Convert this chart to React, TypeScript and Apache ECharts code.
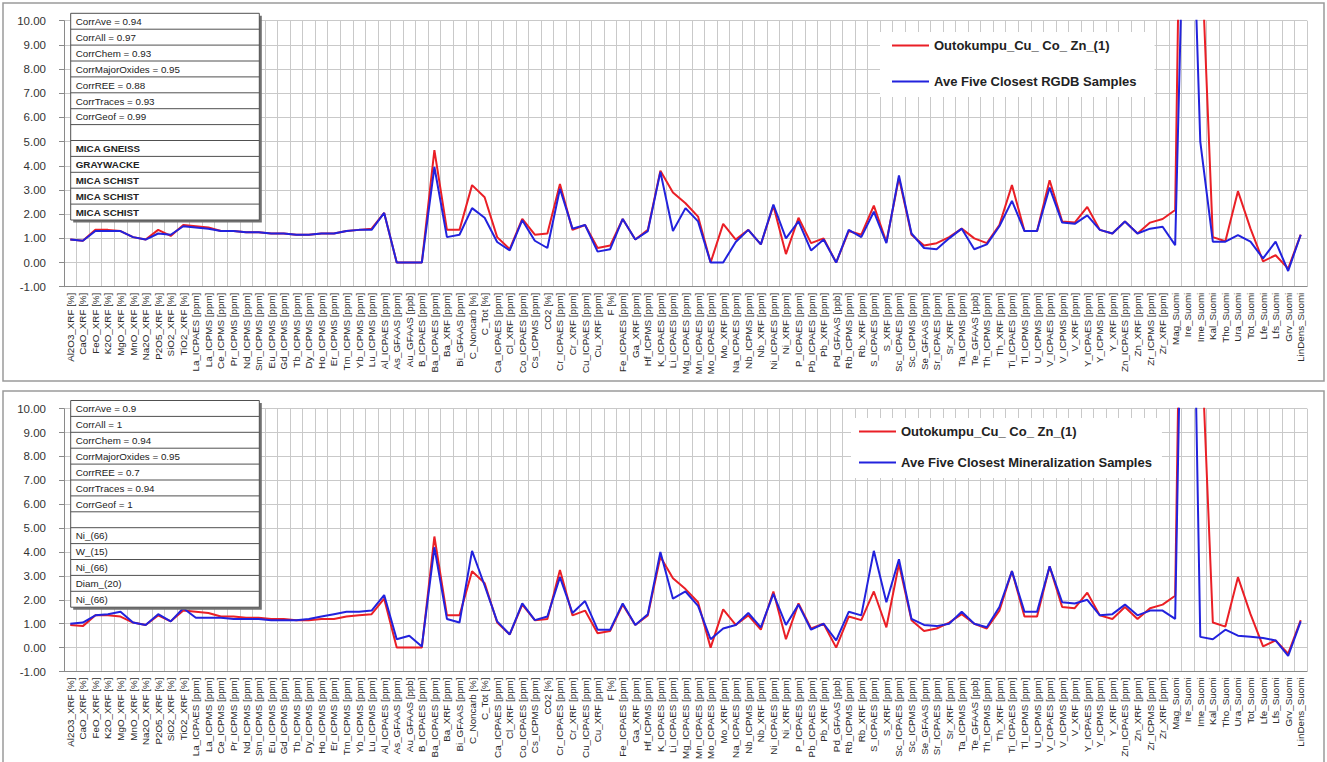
import React, { useEffect, useRef } from "react";
import * as echarts from "echarts";

const categories = [
  "Al2O3_XRF [%]", "CaO_XRF [%]", "FeO_XRF [%]", "K2O_XRF [%]", "MgO_XRF [%]", "MnO_XRF [%]", "Na2O_XRF [%]", "P2O5_XRF [%]", "SiO2_XRF [%]", "TiO2_XRF [%]",
  "La_ICPAES [ppm]", "La_ICPMS [ppm]", "Ce_ICPMS [ppm]", "Pr_ICPMS [ppm]", "Nd_ICPMS [ppm]", "Sm_ICPMS [ppm]", "Eu_ICPMS [ppm]", "Gd_ICPMS [ppm]", "Tb_ICPMS [ppm]", "Dy_ICPMS [ppm]",
  "Ho_ICPMS [ppm]", "Er_ICPMS [ppm]", "Tm_ICPMS [ppm]", "Yb_ICPMS [ppm]", "Lu_ICPMS [ppm]", "Al_ICPAES [ppm]", "As_GFAAS [ppm]", "Au_GFAAS [ppb]", "B_ICPAES [ppm]", "Ba_ICPAES [ppm]",
  "Ba_XRF [ppm]", "Bi_GFAAS [ppm]", "C_Noncarb [%]", "C_Tot [%]", "Ca_ICPAES [ppm]", "Cl_XRF [ppm]", "Co_ICPAES [ppm]", "Cs_ICPMS [ppm]", "CO2 [%]", "Cr_ICPAES [ppm]",
  "Cr_XRF [ppm]", "Cu_ICPAES [ppm]", "Cu_XRF [ppm]", "F [%]", "Fe_ICPAES [ppm]", "Ga_XRF [ppm]", "Hf_ICPMS [ppm]", "K_ICPAES [ppm]", "Li_ICPAES [ppm]", "Mg_ICPAES [ppm]",
  "Mn_ICPAES [ppm]", "Mo_ICPAES [ppm]", "Mo_XRF [ppm]", "Na_ICPAES [ppm]", "Nb_ICPMS [ppm]", "Nb_XRF [ppm]", "Ni_ICPAES [ppm]", "Ni_XRF [ppm]", "P_ICPAES [ppm]", "Pb_ICPAES [ppm]",
  "Pb_XRF [ppm]", "Pd_GFAAS [ppb]", "Rb_ICPMS [ppm]", "Rb_XRF [ppm]", "S_ICPAES [ppm]", "S_XRF [ppm]", "Sc_ICPAES [ppm]", "Sc_ICPMS [ppm]", "Se_GFAAS [ppm]", "Sr_ICPAES [ppm]",
  "Sr_XRF [ppm]", "Ta_ICPMS [ppm]", "Te_GFAAS [ppb]", "Th_ICPMS [ppm]", "Th_XRF [ppm]", "Ti_ICPAES [ppm]", "Tl_ICPMS [ppm]", "U_ICPMS [ppm]", "V_ICPAES [ppm]", "V_ICPMS [ppm]",
  "V_XRF [ppm]", "Y_ICPAES [ppm]", "Y_ICPMS [ppm]", "Y_XRF [ppm]", "Zn_ICPAES [ppm]", "Zn_XRF [ppm]", "Zr_ICPMS [ppm]", "Zr_XRF [ppm]", "Mag_Suomi", "Ire_Suomi",
  "Ime_Suomi", "Kal_Suomi", "Tho_Suomi", "Ura_Suomi", "Tot_Suomi", "Lfe_Suomi", "Lfs_Suomi", "Grv_Suomi", "LinDens_Suomi",
];

// Outokumpu_Cu_ Co_ Zn_(1) (same sample in both panels)
const sampleValues = [
  0.95, 0.9, 1.35, 1.35, 1.3, 1.05, 0.95, 1.35, 1.1, 1.55,
  1.5, 1.45, 1.3, 1.3, 1.25, 1.25, 1.2, 1.2, 1.15, 1.15,
  1.2, 1.2, 1.3, 1.35, 1.4, 2.05, 0.0, 0.0, 0.0, 4.65,
  1.35, 1.35, 3.2, 2.7, 1.05, 0.55, 1.8, 1.15, 1.2, 3.25,
  1.35, 1.55, 0.6, 0.7, 1.8, 0.95, 1.35, 3.8, 2.9, 2.45,
  1.9, 0.0, 1.6, 0.95, 1.35, 0.75, 2.35, 0.35, 1.85, 0.8,
  1.0, 0.0, 1.3, 1.15, 2.35, 0.85, 3.5, 1.15, 0.7, 0.8,
  1.05, 1.4, 1.0, 0.8, 1.55, 3.2, 1.3, 1.3, 3.4, 1.7,
  1.65, 2.3, 1.35, 1.2, 1.7, 1.2, 1.65, 1.8, 2.17, 37.0,
  14.0, 1.05, 0.88, 2.95, 1.4, 0.05, 0.3, -0.25, 1.15,
];

// Ave Five Closest RGDB Samples
const rgdbValues = [
  0.95, 0.9, 1.3, 1.3, 1.3, 1.05, 0.95, 1.2, 1.15, 1.5,
  1.45, 1.4, 1.3, 1.3, 1.25, 1.25, 1.2, 1.2, 1.15, 1.15,
  1.2, 1.2, 1.3, 1.35, 1.35, 2.05, 0.0, 0.0, 0.0, 3.95,
  1.05, 1.15, 2.25, 1.85, 0.85, 0.5, 1.75, 0.9, 0.6, 3.05,
  1.4, 1.55, 0.45, 0.55, 1.8, 0.95, 1.3, 3.75, 1.3, 2.25,
  1.7, 0.0, 0.0, 0.85, 1.35, 0.75, 2.4, 1.0, 1.7, 0.5,
  0.95, 0.0, 1.35, 1.05, 2.1, 0.8, 3.6, 1.2, 0.6, 0.55,
  1.0, 1.4, 0.55, 0.75, 1.5, 2.55, 1.3, 1.3, 3.1, 1.65,
  1.6, 1.95, 1.35, 1.2, 1.7, 1.2, 1.4, 1.48, 0.72, 21.6,
  5.0, 0.86, 0.86, 1.13, 0.86, 0.17, 0.86, -0.35, 1.15,
];

// Ave Five Closest Mineralization Samples
const mineralValues = [
  1.0, 1.05, 1.35, 1.4, 1.5, 1.05, 0.95, 1.4, 1.1, 1.65,
  1.25, 1.25, 1.25, 1.2, 1.2, 1.2, 1.15, 1.15, 1.15, 1.2,
  1.3, 1.4, 1.5, 1.5, 1.55, 2.2, 0.35, 0.5, 0.05, 4.2,
  1.2, 1.05, 4.05, 2.6, 1.1, 0.55, 1.85, 1.15, 1.3, 2.95,
  1.45, 1.95, 0.75, 0.75, 1.85, 0.95, 1.4, 4.0, 2.05, 2.35,
  1.75, 0.35, 0.8, 0.95, 1.45, 0.85, 2.25, 0.95, 1.8, 0.75,
  1.0, 0.3, 1.5, 1.35, 4.05, 1.9, 3.7, 1.2, 0.95, 0.9,
  1.0, 1.5, 1.0, 0.85, 1.7, 3.2, 1.5, 1.5, 3.4, 1.9,
  1.85, 2.0, 1.35, 1.4, 1.8, 1.35, 1.55, 1.55, 1.2, 30.0,
  0.45, 0.35, 0.75, 0.5, 0.45, 0.4, 0.3, -0.35, 1.1,
];

const sampleName = "Outokumpu_Cu_ Co_ Zn_(1)";
const rgdbName = "Ave Five Closest RGDB Samples";
const mineralName = "Ave Five Closest Mineralization Samples";

const topStats = ["CorrAve = 0.94", "CorrAll = 0.97", "CorrChem = 0.93", "CorrMajorOxides = 0.95", "CorrREE = 0.88", "CorrTraces = 0.93", "CorrGeof = 0.99"];
const topMatches = ["MICA GNEISS", "GRAYWACKE", "MICA SCHIST", "MICA SCHIST", "MICA SCHIST"];
const bottomStats = ["CorrAve = 0.9", "CorrAll = 1", "CorrChem = 0.94", "CorrMajorOxides = 0.95", "CorrREE = 0.7", "CorrTraces = 0.94", "CorrGeof = 1"];
const bottomMatches = ["Ni_(66)", "W_(15)", "Ni_(66)", "Diam_(20)", "Ni_(66)"];

const Y_MIN = -1;
const Y_MAX = 10;
const Y_STEP = 1;

const RED = "#ea1f26";
const BLUE = "#2222dd";
const GRID_COLOR = "#c9c9c9";
const FONT = "Liberation Sans, Arial, sans-serif";
const BOX_Z = 100;

function infoBox(x: number, y: number, stats: string[], matches: string[], boldMatches: boolean) {
  const rows = [...stats, "", ...matches];
  const rowH = 15.9;
  const w = 188.6;
  const h = rows.length * rowH;
  const children: any[] = [
    { type: "rect", z: BOX_Z, shape: { x: 2.5, y: 2.5, width: w, height: h }, style: { fill: "#707070" } },
    { type: "rect", z: BOX_Z + 1, shape: { x: 0, y: 0, width: w, height: h }, style: { fill: "#ffffff", stroke: "#505050", lineWidth: 1 } },
  ];
  rows.forEach((t, i) => {
    if (i > 0) {
      children.push({
        type: "line",
        z: BOX_Z + 2,
        shape: { x1: 0, y1: i * rowH, x2: w, y2: i * rowH },
        style: { stroke: "#505050", lineWidth: 1 },
      });
    }
    if (t) {
      const bold = i > stats.length && boldMatches;
      children.push({
        type: "text",
        z: BOX_Z + 3,
        x: 5,
        y: i * rowH + 3.2,
        style: {
          text: t,
          fontSize: 9.8,
          fontFamily: FONT,
          fontWeight: bold ? "bold" : "normal",
          fill: "#222",
        },
      });
    }
  });
  return { type: "group", x, y, z: BOX_Z, children };
}

function xAxisFor(gridIndex: number) {
  return {
    type: "category",
    gridIndex,
    data: categories,
    boundaryGap: true,
    axisLine: { show: true, onZero: false, lineStyle: { color: "#8a8a8a", width: 1 } },
    axisTick: { show: false },
    axisLabel: {
      interval: 0,
      rotate: 90,
      fontSize: 9.8,
      fontFamily: FONT,
      color: "#2a2a2a",
      margin: 6,
    },
    splitLine: { show: true, interval: 0, lineStyle: { color: GRID_COLOR, width: 1 } },
  };
}

function yAxisFor(gridIndex: number) {
  return {
    type: "value",
    gridIndex,
    min: Y_MIN,
    max: Y_MAX,
    interval: Y_STEP,
    axisLine: { show: true, lineStyle: { color: "#8a8a8a", width: 1 } },
    axisTick: { show: true, length: 5, lineStyle: { color: "#8a8a8a" } },
    axisLabel: {
      formatter: (v: number) => v.toFixed(2),
      fontSize: 11.5,
      fontFamily: FONT,
      color: "#333",
      margin: 18,
    },
    splitLine: { show: true, lineStyle: { color: GRID_COLOR, width: 1 } },
  };
}

function lineSeries(name: string, data: number[], color: string, idx: number, z: number) {
  return {
    type: "line",
    name,
    data,
    xAxisIndex: idx,
    yAxisIndex: idx,
    symbol: "none",
    clip: true,
    z,
    lineStyle: { color, width: 2 },
    itemStyle: { color },
  };
}

const LEGEND_ICON = "path://M0,6 L37,6 L37,8 L0,8 Z";

export default function App() {
  const ref = useRef<HTMLDivElement>(null);
  useEffect(() => {
    if (!ref.current) return;
    const chart = echarts.init(ref.current, null, { renderer: "svg" });
    const legendCommon = {
      orient: "vertical",
      selectedMode: false,
      backgroundColor: "#ffffff",
      itemWidth: 37,
      itemHeight: 14,
      textStyle: { fontSize: 13, fontWeight: "bold", fontFamily: FONT, color: "#222" },
    };
    chart.setOption({
      animation: false,
      backgroundColor: "#ffffff",
      grid: [
        { left: 64, top: 20.7, width: 1243, height: 266 },
        { left: 64, top: 408.7, width: 1243, height: 265 },
      ],
      xAxis: [xAxisFor(0), xAxisFor(1)],
      yAxis: [yAxisFor(0), yAxisFor(1)],
      legend: [
        {
          ...legendCommon,
          data: [
            { name: sampleName, itemStyle: { color: RED }, icon: LEGEND_ICON },
            { name: rgdbName, itemStyle: { color: BLUE }, icon: LEGEND_ICON },
          ],
          left: 880,
          top: 32,
          padding: [7, 18, 9, 12],
          itemGap: 23,
        },
        {
          ...legendCommon,
          data: [
            { name: sampleName, itemStyle: { color: RED }, icon: LEGEND_ICON },
            { name: mineralName, itemStyle: { color: BLUE }, icon: LEGEND_ICON },
          ],
          left: 851,
          top: 418,
          padding: [7, 10, 9, 8],
          itemGap: 18,
        },
      ],
      series: [
        lineSeries(sampleName, sampleValues, RED, 0, 2),
        lineSeries(rgdbName, rgdbValues, BLUE, 0, 3),
        lineSeries(sampleName, sampleValues, RED, 1, 2),
        lineSeries(mineralName, mineralValues, BLUE, 1, 3),
      ],
      graphic: [
        { type: "rect", z: 50, shape: { x: 3, y: 3, width: 1321, height: 378 }, style: { fill: "none", stroke: "#9a9a9a", lineWidth: 1.5 } },
        { type: "rect", z: 50, shape: { x: 3, y: 391, width: 1321, height: 380 }, style: { fill: "none", stroke: "#9a9a9a", lineWidth: 1.5 } },
        infoBox(70.7, 13.3, topStats, topMatches, true),
        infoBox(70.7, 400.5, bottomStats, bottomMatches, false),
      ],
    });
    return () => chart.dispose();
  }, []);
  return <div ref={ref} style={{ position: "fixed", left: 0, top: 0, width: 1327, height: 762 }} />;
}
